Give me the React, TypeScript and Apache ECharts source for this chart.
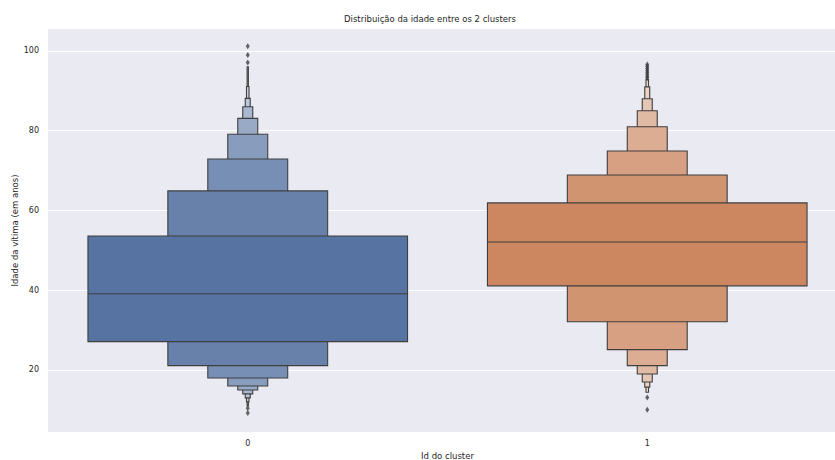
import React, { useEffect, useRef } from "react";
import * as echarts from "echarts";

// Cluster ids on the x axis
const clusters = ["0", "1"];

// Letter-value boxes: upper and lower bound of each level, widest level first
const upper0 = [53.6, 64.9, 72.9, 79.1, 83.1, 86.0, 88.1, 91.1, 96.0];
const lower0 = [27.1, 21.1, 18.0, 16.0, 15.0, 14.0, 13.0, 12.0, 11.0];
const upper1 = [61.9, 68.9, 74.9, 81.0, 85.0, 88.0, 91.0, 92.8];
const lower1 = [41.1, 32.1, 25.1, 21.1, 19.0, 17.0, 15.7, 14.4];

// Medians
const medians = [39.1, 52.1];

// Points beyond the last level
const outliers0 = [101.2, 99.0, 97.1, 10.4, 9.2];
const outliers1 = [96.6, 96.1, 95.6, 95.1, 94.6, 94.1, 93.6, 93.2, 13.1, 10.0];

// Y axis tick labels
const yTicks = [20, 40, 60, 80, 100];

const baseColors: number[][] = [
  [86, 115, 162],
  [204, 135, 96],
];
const lightColors: number[][] = [
  [236, 239, 245],
  [246, 236, 230],
];
const edgeColor = "#3f3f3f";

function mix(a: number[], b: number[], t: number) {
  const c = a.map((v, i) => Math.round(v + (b[i] - v) * t));
  return `rgb(${c[0]},${c[1]},${c[2]})`;
}

const uppers = [upper0, upper1];
const lowers = [lower0, lower1];
const outliers = [outliers0, outliers1];

export default function App() {
  const ref = useRef<HTMLDivElement>(null);

  useEffect(() => {
    document.body.style.margin = "0";
    const chart = echarts.init(ref.current!, null, { renderer: "svg" });

    const outlierData: number[][] = [];
    outliers.forEach((list, i) => list.forEach((v) => outlierData.push([i, v])));

    const option: any = {
      animation: false,
      backgroundColor: "#ffffff",
      textStyle: { fontFamily: "DejaVu Sans" },
      graphic: [
        {
          type: "text",
          x: 430,
          y: 19,
          style: {
            text: "Distribuição da idade entre os 2 clusters",
            fontFamily: "DejaVu Sans",
            fontSize: 8.5,
            fill: "#262626",
            textAlign: "center",
            textVerticalAlign: "middle",
          },
        },
      ],
      grid: {
        left: 48,
        right: -12,
        top: 29,
        bottom: 28,
        show: true,
        backgroundColor: "#eaeaf2",
        borderWidth: 0,
        containLabel: false,
        outerBoundsMode: "none",
      },
      xAxis: {
        type: "category",
        data: clusters,
        axisLine: { show: false },
        axisTick: { show: false },
        splitLine: { show: false },
        axisLabel: { color: "#262626", fontSize: 8, margin: 7, fontFamily: "DejaVu Sans" },
        name: "Id do cluster",
        nameLocation: "middle",
        nameGap: 19,
        nameMoveOverlap: false,
        nameTextStyle: { color: "#262626", fontSize: 8.5, fontFamily: "DejaVu Sans" },
      },
      yAxis: {
        type: "value",
        min: 4.45,
        max: 105.5,
        axisLine: { show: false },
        axisTick: { show: false, customValues: yTicks },
        axisLabel: {
          customValues: yTicks,
          color: "#262626",
          fontSize: 8,
          margin: 9,
          fontFamily: "DejaVu Sans",
        },
        splitLine: { show: true, lineStyle: { color: "#ffffff", width: 1 } },
        name: "Idade da vítima (em anos)",
        nameLocation: "middle",
        nameRotate: 90,
        nameGap: 29,
        nameMoveOverlap: false,
        nameTextStyle: { color: "#262626", fontSize: 8.5, fontFamily: "DejaVu Sans" },
      },
      series: [
        {
          type: "custom",
          data: clusters.map((_, i) => [i, medians[i]]),
          encode: { x: 0, y: 1 },
          z: 2,
          renderItem: (params: any, api: any) => {
            const i = params.dataIndex;
            const up = uppers[i];
            const lo = lowers[i];
            const n = up.length;
            const band = api.size([1, 0])[0];
            const cx = api.coord([i, 0])[0];
            const children: any[] = [];
            for (let k = n - 1; k >= 0; k--) {
              const w = (band * 0.8) / Math.pow(2, k);
              const top = api.coord([i, up[k]])[1];
              const bot = api.coord([i, lo[k]])[1];
              children.push({
                type: "rect",
                shape: { x: cx - w / 2, y: top, width: w, height: bot - top },
                style: {
                  fill: mix(baseColors[i], lightColors[i], k / n),
                  stroke: edgeColor,
                  lineWidth: 1.1,
                },
              });
            }
            const w0 = band * 0.8;
            const my = api.coord([i, medians[i]])[1];
            children.push({
              type: "line",
              shape: { x1: cx - w0 / 2, y1: my, x2: cx + w0 / 2, y2: my },
              style: { stroke: edgeColor, lineWidth: 1.1 },
            });
            return { type: "group", children };
          },
        },
        {
          type: "scatter",
          data: outlierData,
          symbol: "diamond",
          symbolSize: [4, 6],
          z: 3,
          itemStyle: { color: "#3f3f3f" },
        },
      ],
    };

    chart.setOption(option);
    return () => chart.dispose();
  }, []);

  return <div ref={ref} style={{ width: 835, height: 460 }} />;
}
